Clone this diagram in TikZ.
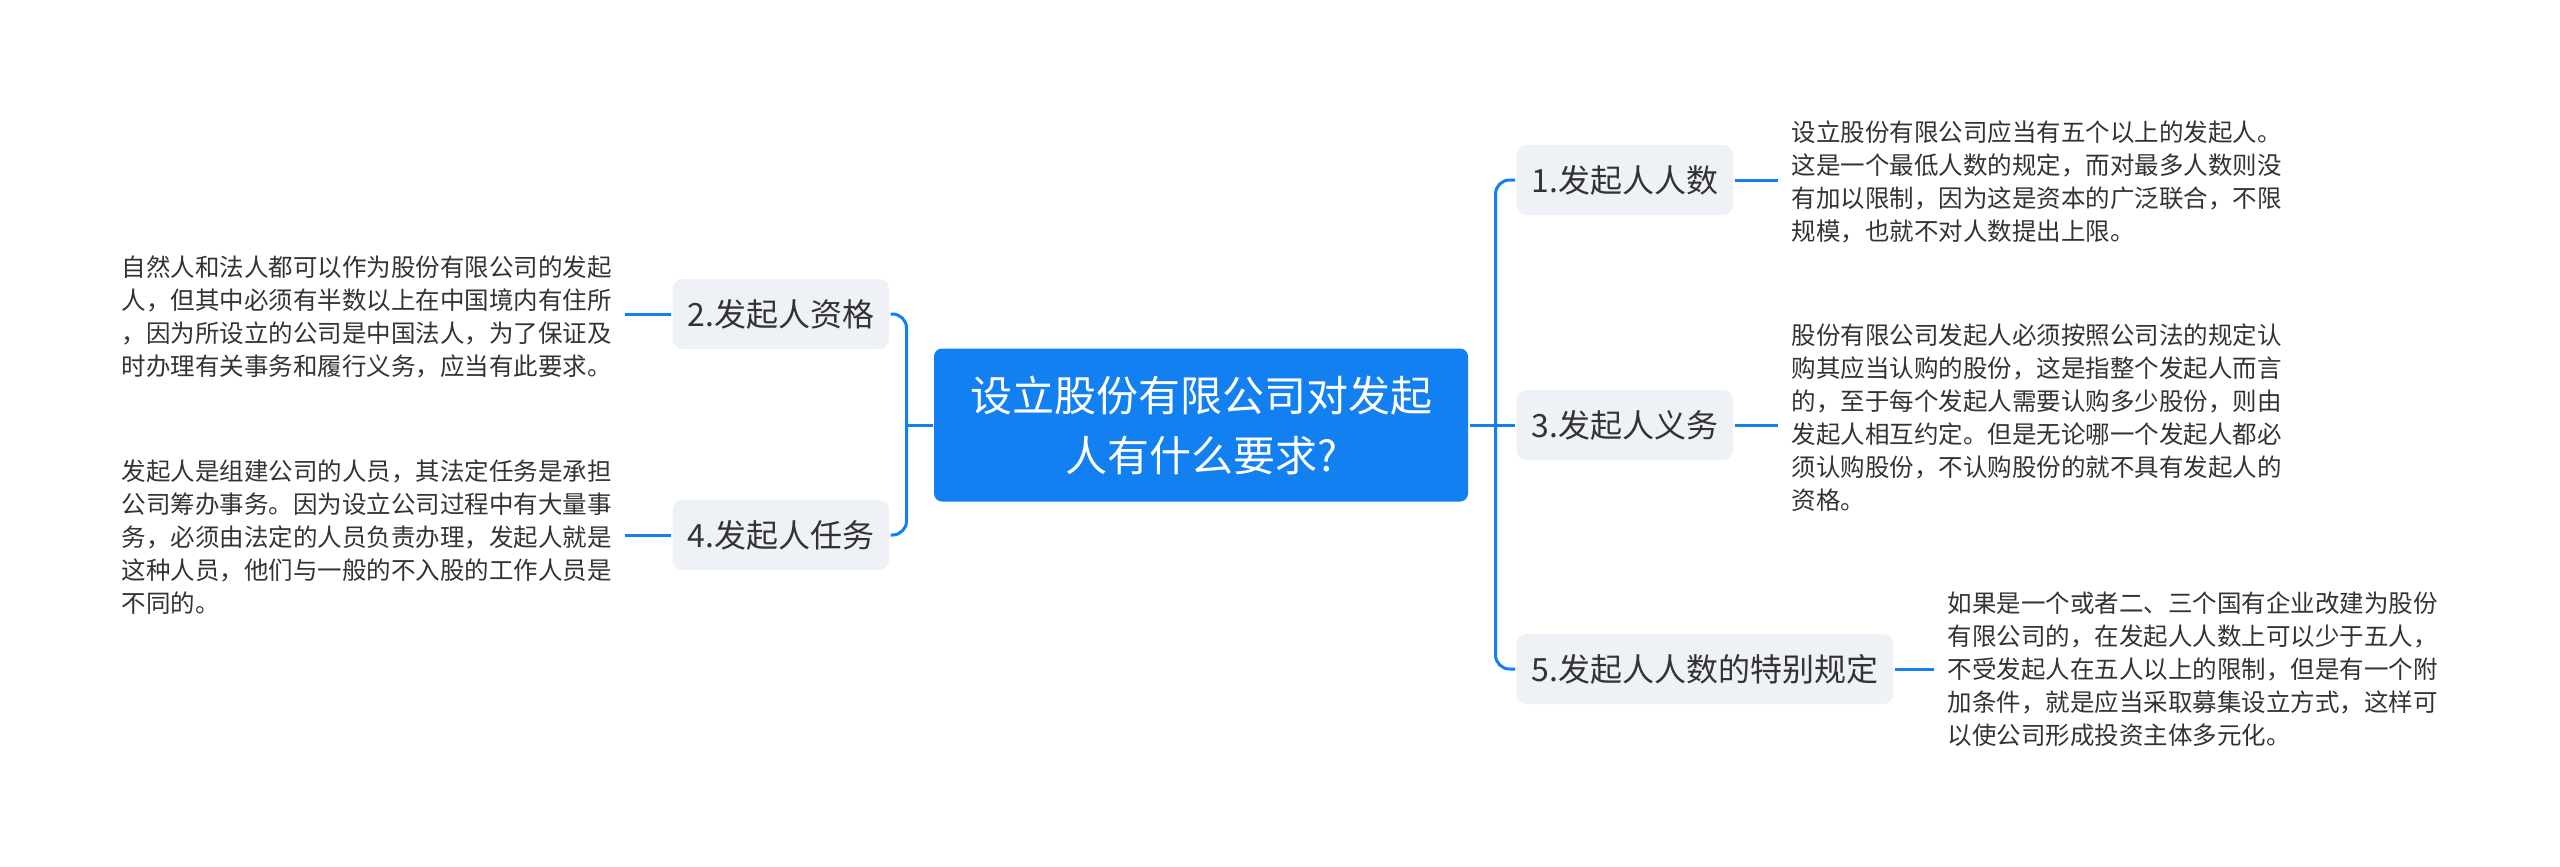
\documentclass[tikz,border=0pt]{standalone}
\usepackage{fontspec}
\setmainfont{Noto Sans CJK SC}
\definecolor{mainblue}{RGB}{18,128,240}
\definecolor{topicgray}{RGB}{238,241,245}
\definecolor{inktext}{RGB}{51,51,51}

\begin{document}
\begin{tikzpicture}[x=1pt, y=-1pt, line width=3pt,
  rootbox/.style={fill=mainblue, text=white, rounded corners=8pt, minimum width=534pt,
    minimum height=153pt, align=center, font=\fontsize{42}{60}\selectfont},
  topicbox/.style={fill=topicgray, text=inktext, rounded corners=10pt, minimum height=70pt,
    inner xsep=15pt, font=\fontsize{32}{38}\selectfont},
  notetext/.style={text=inktext, align=left, inner xsep=12pt, inner ysep=0pt,
    font=\fontsize{24.5}{33}\selectfont},
  link/.style={draw=mainblue, line width=3pt, rounded corners=14pt}]
  % Marco
  \useasboundingbox (0,0) rectangle (2560,867);
  % Tema central
  \node[rootbox] (root) at (1201,425) {设立股份有限公司对发起\\人有什么要求?};
  % Ramas izquierda
  \node[topicbox, anchor=west] (q2) at (671,314) {2.发起人资格};
  \node[topicbox, anchor=west] (q4) at (671,535) {4.发起人任务};
  % Ramas derecha
  \node[topicbox, anchor=west] (q1) at (1515,180) {1.发起人人数};
  \node[topicbox, anchor=west] (q3) at (1515,425) {3.发起人义务};
  \node[topicbox, anchor=west] (q5) at (1515,669) {5.发起人人数的特别规定};
  % Textos
  \node[notetext, anchor=west] (n2) at (108,317) {自然人和法人都可以作为股份有限公司的发起\\人，但其中必须有半数以上在中国境内有住所\\，因为所设立的公司是中国法人，为了保证及\\时办理有关事务和履行义务，应当有此要求。};
  \node[notetext, anchor=west] (n4) at (108,537) {发起人是组建公司的人员，其法定任务是承担\\公司筹办事务。因为设立公司过程中有大量事\\务，必须由法定的人员负责办理，发起人就是\\这种人员，他们与一般的不入股的工作人员是\\不同的。};
  \node[notetext, anchor=west] (n1) at (1778,182) {设立股份有限公司应当有五个以上的发起人。\\这是一个最低人数的规定，而对最多人数则没\\有加以限制，因为这是资本的广泛联合，不限\\规模，也就不对人数提出上限。};
  \node[notetext, anchor=west] (n3) at (1778,418) {股份有限公司发起人必须按照公司法的规定认\\购其应当认购的股份，这是指整个发起人而言\\的，至于每个发起人需要认购多少股份，则由\\发起人相互约定。但是无论哪一个发起人都必\\须认购股份，不认购股份的就不具有发起人的\\资格。};
  \node[notetext, anchor=west] (n5) at (1934,669) {如果是一个或者二、三个国有企业改建为股份\\有限公司的，在发起人人数上可以少于五人，\\不受发起人在五人以上的限制，但是有一个附\\加条件，就是应当采取募集设立方式，这样可\\以使公司形成投资主体多元化。};
  % Conectores
  \coordinate (jl) at ([xshift=-26pt]root.west);
  \coordinate (jr) at ([xshift=26pt]root.east);
  \draw[link] (root.west) -- (jl);
  \draw[link] (jl) |- (q2.east);
  \draw[link] (jl) |- (q4.east);
  \draw[link] (root.east) -- (jr);
  \draw[link] (jr) |- (q1.west);
  \draw[link] (jr) -- (q3.west);
  \draw[link] (jr) |- (q5.west);
  \draw[link] (q2.west) -- (q2.west -| n2.east);
  \draw[link] (q4.west) -- (q4.west -| n4.east);
  \draw[link] (q1.east) -- (q1.east -| n1.west);
  \draw[link] (q3.east) -- (q3.east -| n3.west);
  \draw[link] (q5.east) -- (q5.east -| n5.west);
\end{tikzpicture}
\end{document}
